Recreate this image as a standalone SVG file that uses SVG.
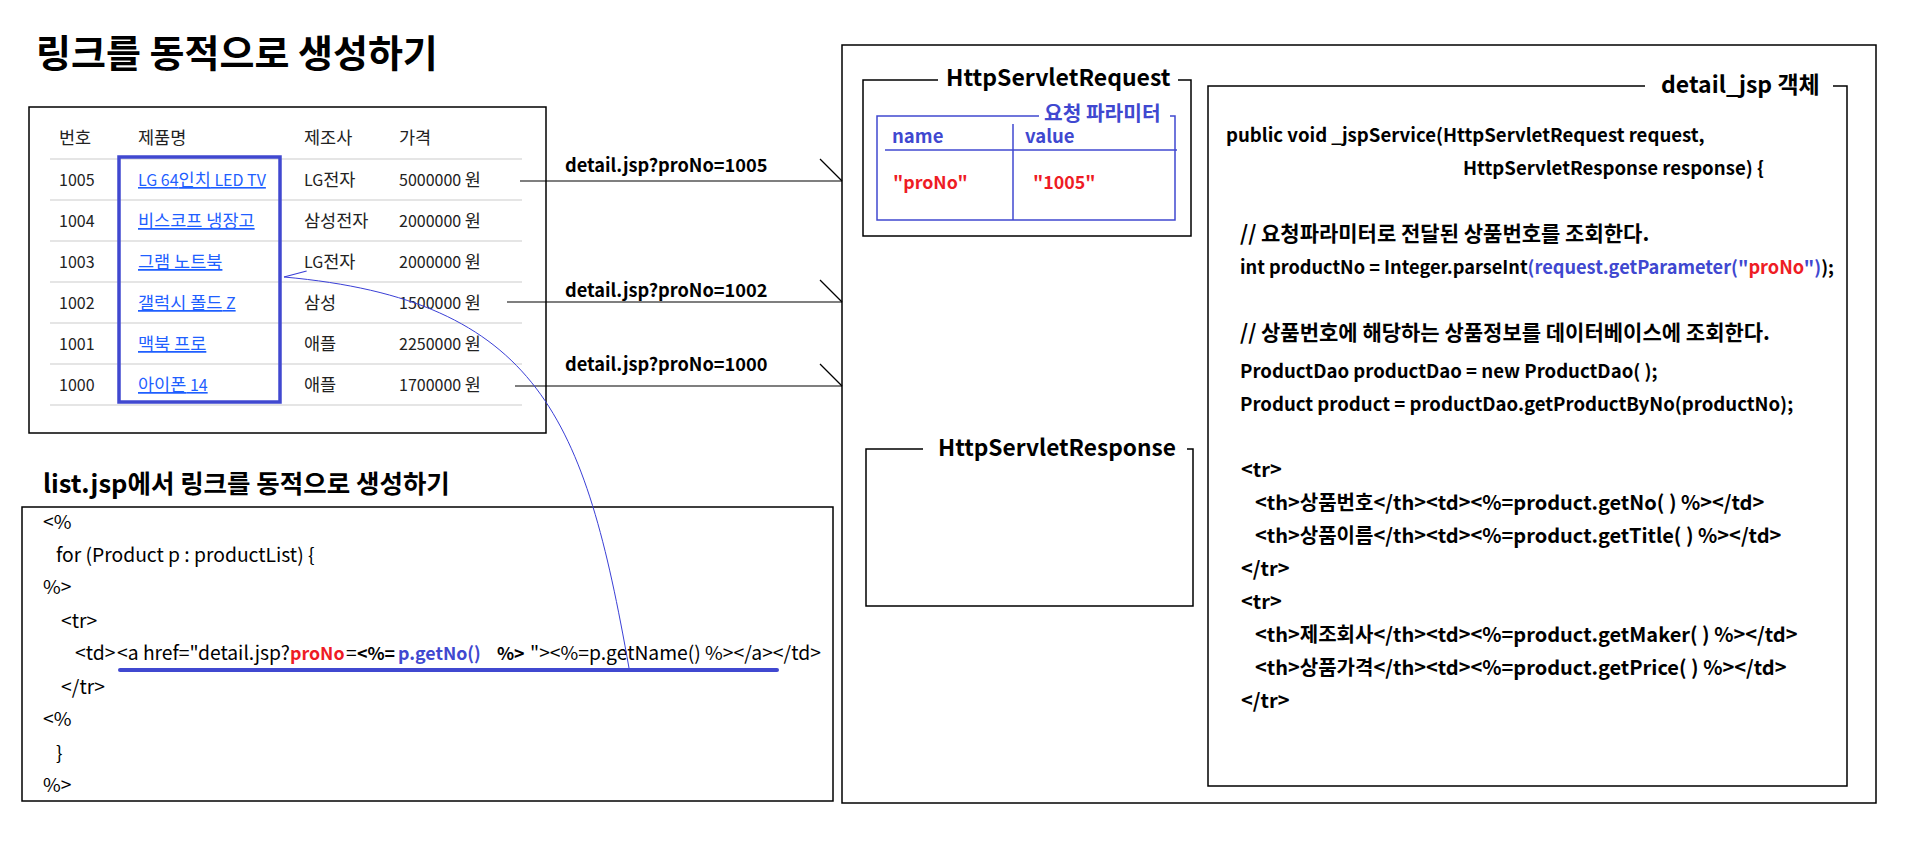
<svg xmlns="http://www.w3.org/2000/svg" width="1908" height="846" viewBox="0 0 1908 846">
<style>
text { font-family: "Noto Sans CJK KR", "Noto Sans", sans-serif; fill: #000; }
.b { font-weight: bold; }
.box { fill: none; stroke: #000; stroke-width: 1.5; }
.bl { fill: none; stroke: #4048d0; stroke-width: 1.5; }
.sep { stroke: #dcdcdc; stroke-width: 1.3; }
.cell { font-size: 16px; fill: #222; }
.link { font-size: 16px; fill: #1f5fff; text-decoration: underline; }
.k { font-size: 17.5px; }
.red { fill: #ee1c25; }
.blue { fill: #4048d0; }
.code { font-size: 19.3px; }
.cb { font-size: 17.8px; font-weight: bold; }
.dcode { font-size: 18.6px; font-weight: bold; }
.dk { font-size: 21px; font-weight: bold; }
.dm { font-size: 20px; font-weight: bold; }
.conn { stroke: #000; stroke-width: 1.2; fill: none; }
.curve { stroke: #3a3fd6; stroke-width: 1; fill: none; }
.lbl { font-size: 18.2px; font-weight: bold; }
.hdr { font-size: 22.7px; font-weight: bold; }
</style>
<defs>
<marker id="tick" markerUnits="userSpaceOnUse" markerWidth="30" markerHeight="30" refX="0" refY="0" orient="auto" style="overflow:visible">
<path d="M0,0 L-22,-22" stroke="#000" stroke-width="1.2" fill="none"/>
</marker>
<marker id="tickB" markerUnits="userSpaceOnUse" markerWidth="30" markerHeight="30" refX="0" refY="0" orient="auto" style="overflow:visible">
<path d="M0,0 L-22,8" stroke="#3a3fd6" stroke-width="1.2" fill="none"/>
</marker>
</defs>
<rect x="0" y="0" width="1908" height="846" fill="#fff"/>

<g id="title">
<text x="36" y="67" class="b" font-size="38">링크를 동적으로 생성하기</text>
</g>

<g id="product-table">
<rect x="29" y="107" width="517" height="326" class="box"/>
<text class="cell k" x="59" y="144">번호</text>
<text class="cell k" x="138" y="144">제품명</text>
<text class="cell k" x="304" y="144">제조사</text>
<text class="cell k" x="399" y="144">가격</text>
<line class="sep" x1="50" y1="159" x2="522" y2="159"/>
<line class="sep" x1="50" y1="200" x2="522" y2="200"/>
<line class="sep" x1="50" y1="241" x2="522" y2="241"/>
<line class="sep" x1="50" y1="282" x2="522" y2="282"/>
<line class="sep" x1="50" y1="323" x2="522" y2="323"/>
<line class="sep" x1="50" y1="364" x2="522" y2="364"/>
<line class="sep" x1="50" y1="405" x2="522" y2="405"/>
<text class="cell" x="59" y="186">1005</text>
<text class="link" x="138" y="186">LG 64<tspan class="k">인치</tspan> LED TV</text>
<text class="cell" x="304" y="186">LG<tspan class="k">전자</tspan></text>
<text class="cell" x="399" y="186">5000000 <tspan class="k">원</tspan></text>
<text class="cell" x="59" y="227">1004</text>
<text class="link k" x="138" y="227">비스코프 냉장고</text>
<text class="cell k" x="304" y="227">삼성전자</text>
<text class="cell" x="399" y="227">2000000 <tspan class="k">원</tspan></text>
<text class="cell" x="59" y="268">1003</text>
<text class="link k" x="138" y="268">그램 노트북</text>
<text class="cell" x="304" y="268">LG<tspan class="k">전자</tspan></text>
<text class="cell" x="399" y="268">2000000 <tspan class="k">원</tspan></text>
<text class="cell" x="59" y="309">1002</text>
<text class="link" x="138" y="309"><tspan class="k">갤럭시 폴드</tspan> Z</text>
<text class="cell k" x="304" y="309">삼성</text>
<text class="cell" x="399" y="309">1500000 <tspan class="k">원</tspan></text>
<text class="cell" x="59" y="350">1001</text>
<text class="link k" x="138" y="350">맥북 프로</text>
<text class="cell k" x="304" y="350">애플</text>
<text class="cell" x="399" y="350">2250000 <tspan class="k">원</tspan></text>
<text class="cell" x="59" y="391">1000</text>
<text class="link" x="138" y="391"><tspan class="k">아이폰</tspan> 14</text>
<text class="cell k" x="304" y="391">애플</text>
<text class="cell" x="399" y="391">1700000 <tspan class="k">원</tspan></text>
<rect x="119" y="157" width="161" height="245" fill="none" stroke="#4048d0" stroke-width="3.5"/>
</g>

<g id="list-code">
<text x="43" y="493" class="b" font-size="25.5">list.jsp에서 링크를 동적으로 생성하기</text>
<rect x="22" y="507" width="811" height="294" class="box"/>
<text class="code" x="43" y="529">&lt;%</text>
<text class="code" x="56" y="562">for (Product p : productList) {</text>
<text class="code" x="43" y="594">%&gt;</text>
<text class="code" x="61" y="628">&lt;tr&gt;</text>
<text class="code" y="660"><tspan x="75">&lt;td&gt;</tspan><tspan x="117">&lt;a href="detail.jsp?</tspan><tspan x="290" class="cb red">proNo</tspan><tspan x="346">=</tspan><tspan x="357" class="cb">&lt;%=</tspan><tspan x="398" class="cb blue">p.getNo()</tspan><tspan x="497" class="cb">%&gt;</tspan><tspan x="530">"&gt;&lt;%=p.getName() %&gt;&lt;/a&gt;&lt;/td&gt;</tspan></text>
<line x1="120" y1="670" x2="777" y2="670" stroke="#4048d0" stroke-width="4" stroke-linecap="round"/>
<text class="code" x="61" y="694">&lt;/tr&gt;</text>
<text class="code" x="43" y="726">&lt;%</text>
<text class="code" x="56" y="760">}</text>
<text class="code" x="43" y="792">%&gt;</text>
</g>

<g id="jsp-container">
<rect x="842" y="45" width="1034" height="758" class="box"/>
</g>

<g id="http-request">
<path d="M938,80 H863 V236 H1191 V80 H1178" class="box"/>
<text x="946" y="86" class="hdr" style="font-size:23px">HttpServletRequest</text>
<path d="M1039,116 H877 V220 H1175 V116 H1170" class="bl"/>
<text x="1044" y="121" class="b blue" font-size="20.3">요청 파라미터</text>
<line x1="1013" y1="124" x2="1013" y2="220" class="bl"/>
<line x1="885" y1="150" x2="1177" y2="150" class="bl"/>
<text x="892" y="143" class="b blue" font-size="18.5">name</text>
<text x="1025" y="143" class="b blue" font-size="18.5">value</text>
<text x="893" y="189" class="b red" font-size="17.8">"proNo"</text>
<text x="1033" y="189" class="b red" font-size="17.8">"1005"</text>
</g>

<g id="http-response">
<path d="M923,449 H866 V606 H1193 V449 H1187" class="box"/>
<text x="938" y="456" class="hdr">HttpServletResponse</text>
</g>

<g id="detail-jsp">
<path d="M1645,86 H1208 V786 H1847 V86 H1833" class="box"/>
<text x="1661" y="93" class="b" font-size="23">detail_jsp 객체</text>
<text class="dcode" x="1226" y="142">public void _jspService(HttpServletRequest request,</text>
<text class="dcode" x="1463" y="175">HttpServletResponse response) {</text>
<text class="dk" x="1240" y="241">// 요청파라미터로 전달된 상품번호를 조회한다.</text>
<text class="dcode" x="1240" y="274" style="font-size:18.2px">int productNo = Integer.parseInt<tspan class="blue">(request.getParameter("</tspan><tspan class="red">proNo</tspan><tspan class="blue">")</tspan>);</text>
<text class="dk" x="1240" y="340">// 상품번호에 해당하는 상품정보를 데이터베이스에 조회한다.</text>
<text class="dcode" x="1240" y="378">ProductDao productDao = new ProductDao( );</text>
<text class="dcode" x="1240" y="411">Product product = productDao.getProductByNo(productNo);</text>
<text class="dm" x="1241" y="477">&lt;tr&gt;</text>
<text class="dm" x="1255" y="510">&lt;th&gt;상품번호&lt;/th&gt;&lt;td&gt;&lt;%=product.getNo( ) %&gt;&lt;/td&gt;</text>
<text class="dm" x="1255" y="543">&lt;th&gt;상품이름&lt;/th&gt;&lt;td&gt;&lt;%=product.getTitle( ) %&gt;&lt;/td&gt;</text>
<text class="dm" x="1241" y="576">&lt;/tr&gt;</text>
<text class="dm" x="1241" y="609">&lt;tr&gt;</text>
<text class="dm" x="1255" y="642">&lt;th&gt;제조회사&lt;/th&gt;&lt;td&gt;&lt;%=product.getMaker( ) %&gt;&lt;/td&gt;</text>
<text class="dm" x="1255" y="675">&lt;th&gt;상품가격&lt;/th&gt;&lt;td&gt;&lt;%=product.getPrice( ) %&gt;&lt;/td&gt;</text>
<text class="dm" x="1241" y="708">&lt;/tr&gt;</text>
</g>

<g id="connectors">
<line x1="520" y1="181" x2="842" y2="181" class="conn" marker-end="url(#tick)"/>
<line x1="507" y1="302" x2="842" y2="302" class="conn" marker-end="url(#tick)"/>
<line x1="515" y1="386" x2="842" y2="386" class="conn" marker-end="url(#tick)"/>
<text x="565" y="172" class="lbl">detail.jsp?proNo=1005</text>
<text x="565" y="297" class="lbl">detail.jsp?proNo=1002</text>
<text x="565" y="371" class="lbl">detail.jsp?proNo=1000</text>
<path d="M629,668 C585,420 540,300 284,277" class="curve" marker-end="url(#tickB)"/>
</g>
</svg>
